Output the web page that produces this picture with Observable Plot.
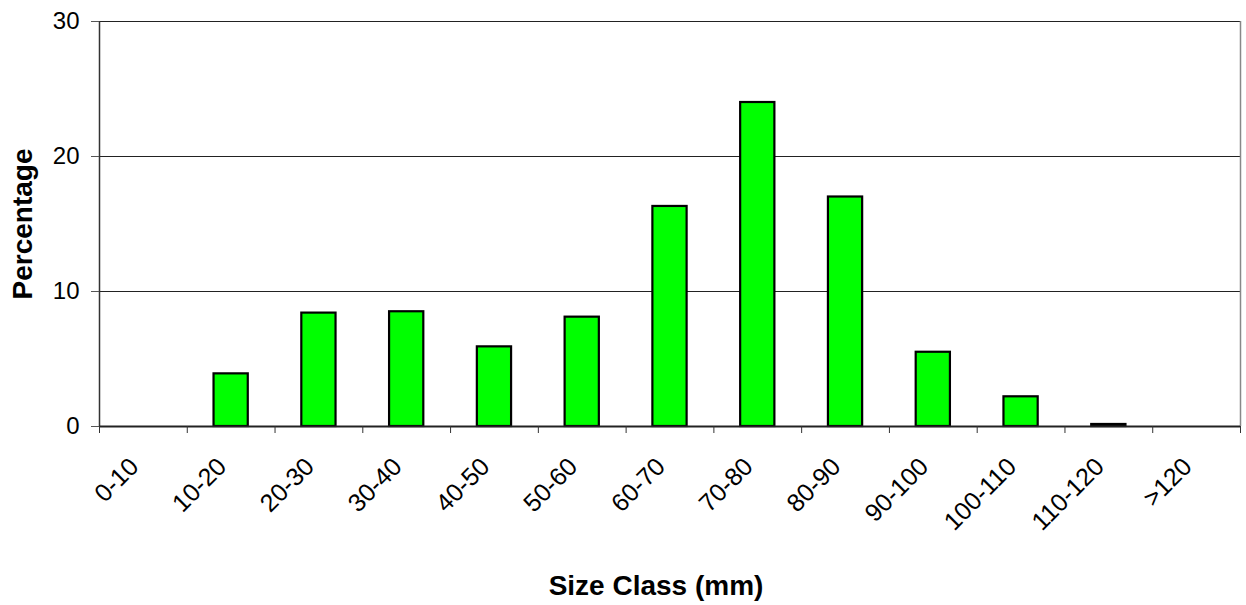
<!DOCTYPE html>
<html>
<head>
<meta charset="utf-8">
<script src="https://cdn.jsdelivr.net/npm/d3@7"></script>
<script src="https://cdn.jsdelivr.net/npm/@observablehq/plot@0.6"></script>
<style>
  html, body { margin: 0; padding: 0; background: #fff; }
  #chart svg { display: block; }
</style>
</head>
<body>
<div id="chart"></div>
<script>
const categories = ["0-10", "10-20", "20-30", "30-40", "40-50", "50-60", "60-70", "70-80", "80-90", "90-100", "100-110", "110-120", ">120"];
const percentages = [0, 3.9, 8.4, 8.5, 5.9, 8.1, 16.3, 24.0, 17.0, 5.5, 2.2, 0.15, 0];
const yTicks = [0, 10, 20, 30];
const xTitle = "Size Class (mm)";
const yTitle = "Percentage";

const data = categories.map((c, i) => ({cat: c, idx: i, value: percentages[i]}));
const n = categories.length;
const font = "'Liberation Sans', Arial, sans-serif";

const chart = Plot.plot({
  width: 1246,
  height: 605,
  marginLeft: 99,
  marginRight: 6,
  marginTop: 21,
  marginBottom: 179,
  style: {fontFamily: font, background: "#fff", color: "#000"},
  x: {domain: [0, n], axis: null},
  y: {domain: [0, 30], axis: null},
  marks: [
    Plot.gridY(yTicks.filter(d => d > 0), {stroke: "#222", strokeOpacity: 1, strokeWidth: 1}),
    Plot.ruleX([n], {stroke: "#888", strokeWidth: 1.5}),
    Plot.rectY(data, {
      x1: d => d.idx + 0.305,
      x2: d => d.idx + 0.695,
      y1: 0,
      y2: "value",
      fill: "#00ff00",
      stroke: "#000",
      strokeWidth: 2.2
    }),
    Plot.ruleX([0], {stroke: "#333", strokeWidth: 1.5}),
    Plot.ruleY([0], {stroke: "#222", strokeWidth: 2}),
    Plot.axisY({ticks: yTicks, tickSize: 8, tickPadding: 12, fontSize: 24, stroke: "#555", label: null}),
    Plot.axisX({ticks: d3.range(n + 1), tickSize: 7, tickFormat: () => "", stroke: "#333", label: null}),
    Plot.text(data, {
      x: d => d.idx + 0.5,
      y: 0,
      text: "cat",
      rotate: -45,
      textAnchor: "end",
      lineAnchor: "middle",
      dx: -9,
      dy: 36,
      fontSize: 25,
      fill: "#000"
    }),
    Plot.text([xTitle], {
      text: d => d,
      frameAnchor: "bottom",
      textAnchor: "middle",
      lineAnchor: "middle",
      dx: -14,
      dy: 160,
      fontSize: 28,
      fontWeight: "bold",
      fill: "#000"
    }),
    Plot.text([yTitle], {
      text: d => d,
      frameAnchor: "left",
      textAnchor: "middle",
      lineAnchor: "middle",
      dx: -76,
      rotate: -90,
      fontSize: 28,
      fontWeight: "bold",
      fill: "#000"
    })
  ]
});
document.getElementById("chart").appendChild(chart);
</script>
</body>
</html>
